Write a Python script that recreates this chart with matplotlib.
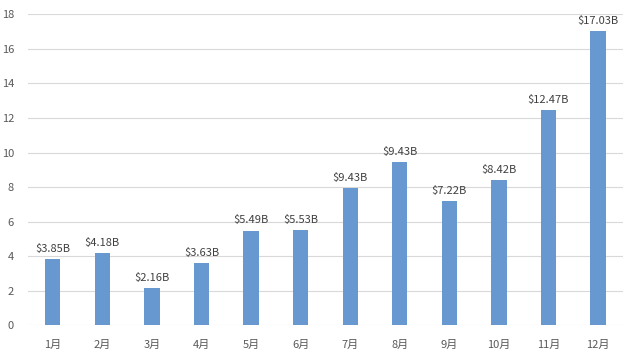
import matplotlib
matplotlib.use('Agg')
import matplotlib.pyplot as plt

plt.rcParams['font.family'] = ['Noto Sans CJK SC', 'DejaVu Sans']

months = ['1月', '2月', '3月', '4月', '5月', '6月',
          '7月', '8月', '9月', '10月', '11月', '12月']
values = [3.85, 4.18, 2.16, 3.63, 5.49, 5.53, 7.93, 9.43, 7.22, 8.42, 12.47, 17.03]
labels = ['$3.85B', '$4.18B', '$2.16B', '$3.63B', '$5.49B', '$5.53B',
          '$9.43B', '$9.43B', '$7.22B', '$8.42B', '$12.47B', '$17.03B']

fig = plt.figure(figsize=(6.41, 3.56), dpi=100)
ax = fig.add_axes([0.0437, 0.0857, 0.928, 0.874])

x = range(len(months))
bars = ax.bar(x, values, width=0.31, color='#6799d0', zorder=3)
for b, lab in zip(bars, labels):
    ax.text(b.get_x() + b.get_width() / 2, b.get_height() + 0.3, lab,
            ha='center', va='bottom', fontsize=8, color='#404040')

ax.set_xlim(-0.5, len(months) - 0.5)
ax.set_ylim(0, 18)
ax.set_yticks(range(0, 19, 2))
ax.set_xticks(list(x))
ax.set_xticklabels(months)
ax.grid(axis='y', color='#d9d9d9', linewidth=0.8, zorder=0)
for s in ax.spines.values():
    s.set_visible(False)
ax.tick_params(length=0, labelsize=8, colors='#595959')
ax.tick_params(axis='x', pad=10)
ax.tick_params(axis='y', pad=10)

fig.savefig('out.png', dpi=100)
